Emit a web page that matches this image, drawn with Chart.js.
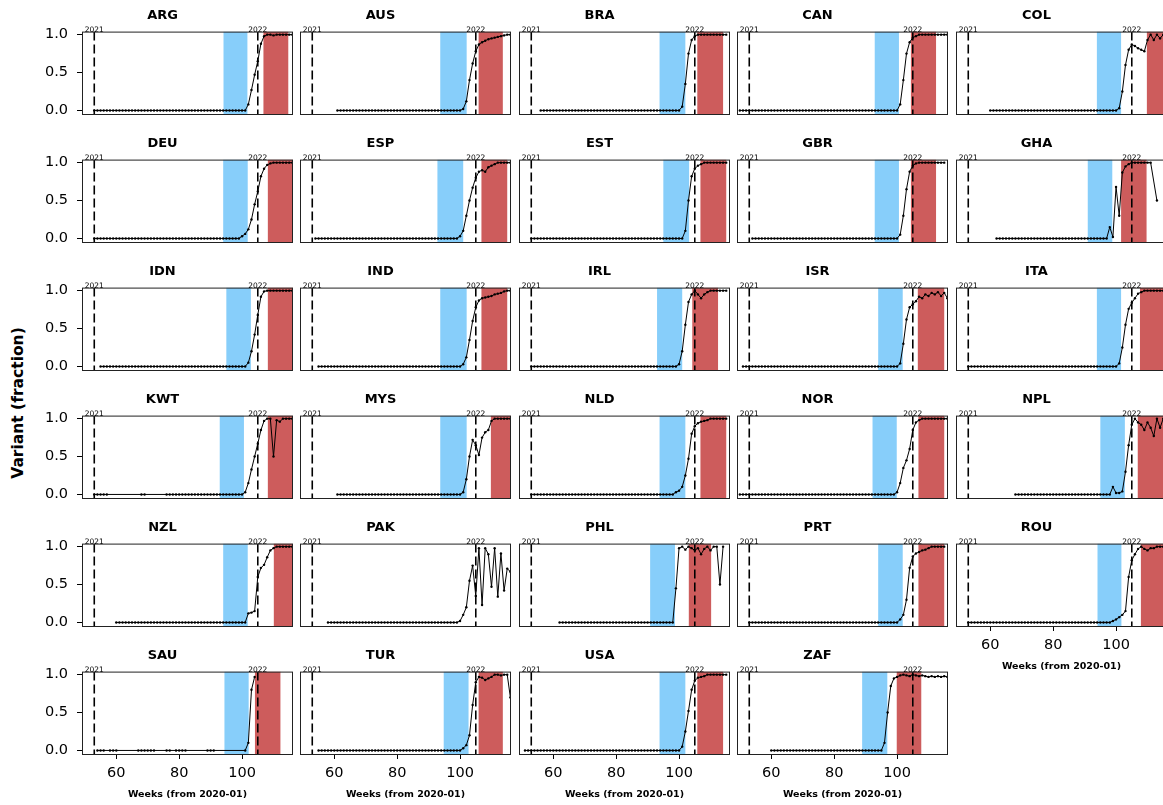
<!DOCTYPE html>
<html>
<head>
<meta charset="utf-8">
<script src="https://cdn.jsdelivr.net/npm/chart.js@4.4.0/dist/chart.umd.min.js"></script>
<style>
  html, body { margin: 0; padding: 0; background: #fff; }
  #fig { position: relative; width: 1163px; height: 805px; overflow: hidden; background: #fff; }
  #fig canvas { position: absolute; }
  #ylab {
    position: absolute; left: 18px; top: 403px;
    transform: translate(-50%, -50%) rotate(-90deg);
    font: bold 15.5px "DejaVu Sans", sans-serif; white-space: nowrap; color: #000;
  }
</style>
</head>
<body>
<div id="fig"><div id="ylab">Variant (fraction)</div></div>
<script>
// variant fraction per week, one array per country (null = no sample that week)
const countries = ["ARG", "AUS", "BRA", "CAN", "COL", "DEU", "ESP", "EST", "GBR", "GHA",
  "IDN", "IND", "IRL", "ISR", "ITA", "KWT", "MYS", "NLD", "NOR", "NPL",
  "NZL", "PAK", "PHL", "PRT", "ROU", "SAU", "TUR", "USA", "ZAF"];

const startWeek = [53, 61, 56, 50, 60, 53, 54, 53, 54, 62,
  55, 55, 53, 51, 53, 53, 61, 53, 50, 68,
  60, 58, 62, 53, 53, 54, 55, 51, 60];

const ARG = [0,0,0,0,0,0,0,0,0,0, 0,0,0,0,0,0,0,0,0,0, 0,0,0,0,0,0,0,0,0,0, 0,0,0,0,0,0,0,0,0,0, 0,0,0,0,0,0,0,0,0,
  0.08,0.27,0.47,0.65,0.88,0.98,1,1,0.99,1,1,1,1,1,1];
const AUS = [0,0,0,0,0,0,0,0,0,0, 0,0,0,0,0,0,0,0,0,0, 0,0,0,0,0,0,0,0,0,0, 0,0,0,0,0,0,0,0,0,0,
  0.02,0.12,0.4,0.62,0.78,0.87,0.9,0.92,0.94,0.95,0.96,0.97,0.98,0.99,1,1];
const BRA = [0,0,0,0,0,0,0,0,0,0, 0,0,0,0,0,0,0,0,0,0, 0,0,0,0,0,0,0,0,0,0, 0,0,0,0,0,0,0,0,0,0, 0,0,0,0,0,
  0.05,0.35,0.75,0.93,0.98,1,1,1,1,1,1,1,1,1,1];
const CAN = [0,0,0,0,0,0,0,0,0,0, 0,0,0,0,0,0,0,0,0,0, 0,0,0,0,0,0,0,0,0,0, 0,0,0,0,0,0,0,0,0,0, 0,0,0,0,0,0,0,0,0,0, 0,
  0.08,0.4,0.75,0.9,0.96,0.98,1,1,1,1,1,1,1,1,1,1];
const COL = [0,0,0,0,0,0,0,0,0,0, 0,0,0,0,0,0,0,0,0,0, 0,0,0,0,0,0,0,0,0,0, 0,0,0,0,0,0,0,0,0,0, 0,
  0.03,0.25,0.6,0.8,0.87,0.85,0.82,0.8,0.78,0.93,1,0.93,1,0.95,1,0.98];
const DEU = [0,0,0,0,0,0,0,0,0,0, 0,0,0,0,0,0,0,0,0,0, 0,0,0,0,0,0,0,0,0,0, 0,0,0,0,0,0,0,0,0,0, 0,0,0,0,0,0,0,
  0.03,0.06,0.12,0.25,0.45,0.62,0.82,0.92,0.97,0.99,1,1,1,1,1,1,1];
const ESP = [0,0,0,0,0,0,0,0,0,0, 0,0,0,0,0,0,0,0,0,0, 0,0,0,0,0,0,0,0,0,0, 0,0,0,0,0,0,0,0,0,0, 0,0,0,0,0,0,
  0.03,0.1,0.3,0.5,0.67,0.8,0.88,0.9,0.88,0.94,0.96,0.98,1,1,1,1,1];
const EST = [0,0,0,0,0,0,0,0,0,0, 0,0,0,0,0,0,0,0,0,0, 0,0,0,0,0,0,0,0,0,0, 0,0,0,0,0,0,0,0,0,0, 0,0,0,0,0,0,0,0,0,
  0.1,0.5,0.82,0.92,0.96,0.98,1,1,1,1,1,1,1,1];
const GBR = [0,0,0,0,0,0,0,0,0,0, 0,0,0,0,0,0,0,0,0,0, 0,0,0,0,0,0,0,0,0,0, 0,0,0,0,0,0,0,0,0,0, 0,0,0,0,0,0,0,
  0.05,0.3,0.65,0.88,0.96,0.99,1,1,1,1,1,1,1,1,1];
const GHA = [0,0,0,0,0,0,0,0,0,0, 0,0,0,0,0,0,0,0,0,0, 0,0,0,0,0,0,0,0,0,0, 0,0,0,0,0,0,
  0.15,0.02,0.68,0.3,0.87,0.95,0.98,1,1,1,1,1,1,1,null,0.5];
const IDN = [0,0,0,0,0,0,0,0,0,0, 0,0,0,0,0,0,0,0,0,0, 0,0,0,0,0,0,0,0,0,0, 0,0,0,0,0,0,0,0,0,0, 0,0,0,0,0,0,0,
  0.05,0.2,0.42,0.68,0.92,0.99,1,1,1,1,1,1,1,1,1];
const IND = [0,0,0,0,0,0,0,0,0,0, 0,0,0,0,0,0,0,0,0,0, 0,0,0,0,0,0,0,0,0,0, 0,0,0,0,0,0,0,0,0,0, 0,0,0,0,0,0,
  0.03,0.12,0.35,0.6,0.78,0.87,0.9,0.91,0.92,0.93,0.95,0.96,0.97,0.99,1,1];
const IRL = [0,0,0,0,0,0,0,0,0,0, 0,0,0,0,0,0,0,0,0,0, 0,0,0,0,0,0,0,0,0,0, 0,0,0,0,0,0,0,0,0,0, 0,0,0,0,0,0,0,
  0.03,0.2,0.55,0.85,0.95,1,0.95,0.9,0.95,0.98,1,1,1,1,1,1];
const ISR = [0,0,0,0,0,0,0,0,0,0, 0,0,0,0,0,0,0,0,0,0, 0,0,0,0,0,0,0,0,0,0, 0,0,0,0,0,0,0,0,0,0, 0,0,0,0,0,0,0,0,0,0,
  0.04,0.3,0.62,0.78,0.82,0.86,0.92,0.9,0.95,0.93,0.97,0.95,0.98,0.93,0.97,0.9];
const ITA = [0,0,0,0,0,0,0,0,0,0, 0,0,0,0,0,0,0,0,0,0, 0,0,0,0,0,0,0,0,0,0, 0,0,0,0,0,0,0,0,0,0, 0,0,0,0,0,0,0,0,
  0.04,0.25,0.55,0.76,0.84,0.9,0.96,0.98,1,1,1,1,1,1,1,1];
const KWT = [0,0,0,0,0, null,null,null,null,null,null,null,null,null,null, 0,0,
  null,null,null,null,null,null, 0,0,0,0,0,0,0,0,0,0, 0,0,0,0,0,0,0,0,0,0, 0,0,0,0,0,
  0.03,0.15,0.33,0.5,0.67,0.85,0.97,1,1,0.5,0.98,0.96,1,1,1,1];
const MYS = [0,0,0,0,0,0,0,0,0,0, 0,0,0,0,0,0,0,0,0,0, 0,0,0,0,0,0,0,0,0,0, 0,0,0,0,0,0,0,0,0,0,
  0.03,0.2,0.5,0.72,0.65,0.52,0.75,0.82,0.85,0.97,1,1,1,1,1,1];
const NLD = [0,0,0,0,0,0,0,0,0,0, 0,0,0,0,0,0,0,0,0,0, 0,0,0,0,0,0,0,0,0,0, 0,0,0,0,0,0,0,0,0,0, 0,0,0,0,0,0,
  0.03,0.05,0.1,0.25,0.47,0.8,0.9,0.94,0.96,0.97,0.98,1,1,1,1,1,1];
const NOR = [0,0,0,0,0,0,0,0,0,0, 0,0,0,0,0,0,0,0,0,0, 0,0,0,0,0,0,0,0,0,0, 0,0,0,0,0,0,0,0,0,0, 0,0,0,0,0,0,0,0,0,0,
  0.03,0.15,0.35,0.45,0.6,0.85,0.95,0.98,1,1,1,1,1,1,1,1,1];
const NPL = [0,0,0,0,0,0,0,0,0,0, 0,0,0,0,0,0,0,0,0,0, 0,0,0,0,0,0,0,0,0,0, 0,
  0.1,0.02,0.02,0.04,0.3,0.65,0.92,1,0.95,0.92,0.85,0.95,0.88,0.77,1,0.88,1];
const NZL = [0,0,0,0,0,0,0,0,0,0, 0,0,0,0,0,0,0,0,0,0, 0,0,0,0,0,0,0,0,0,0, 0,0,0,0,0,0,0,0,0,0, 0,0,
  0.12,0.13,0.15,0.6,0.72,0.76,0.86,0.95,0.98,1,1,1,1,1,1];
const PAK = [0,0,0,0,0,0,0,0,0,0, 0,0,0,0,0,0,0,0,0,0, 0,0,0,0,0,0,0,0,0,0, 0,0,0,0,0,0,0,0,0,0, 0,0,
  0.02,0.1,0.2,0.55,0.75,0.35,0.98,0.23,0.98,0.9,0.47,0.98,0.34,0.91,0.42,0.71,0.67];
const PHL = [0,0,0,0,0,0,0,0,0,0, 0,0,0,0,0,0,0,0,0,0, 0,0,0,0,0,0,0,0,0,0, 0,0,0,0,0,0,0,
  0.45,0.98,1,0.96,1,0.98,0.95,0.98,0.9,0.97,1,0.95,1,1,0.5,1];
const PRT = [0,0,0,0,0,0,0,0,0,0, 0,0,0,0,0,0,0,0,0,0, 0,0,0,0,0,0,0,0,0,0, 0,0,0,0,0,0,0,0,0,0, 0,0,0,0,0,0,0,0,
  0.04,0.1,0.3,0.72,0.87,0.91,0.93,0.95,0.96,0.98,1,1,1,1,1];
const ROU = [0,0,0,0,0,0,0,0,0,0, 0,0,0,0,0,0,0,0,0,0, 0,0,0,0,0,0,0,0,0,0, 0,0,0,0,0,0,0,0,0,0, 0,0,0,0,0,0,
  0.02,0.04,0.07,0.1,0.15,0.6,0.82,0.9,0.97,1,0.97,0.95,0.98,0.98,1,1,1,1];
const SAU = [0,0,0, null, 0,0,0, null,null,null,null,null,null, 0,0,0,0,0,0, null,null,null, 0,0, null,
  0,0,0,0, null,null,null,null,null,null, 0,0,0, null,null,null,null,null,null,null,null,null,
  0, 0.1,0.8,0.97];
const TUR = [0,0,0,0,0,0,0,0,0,0, 0,0,0,0,0,0,0,0,0,0, 0,0,0,0,0,0,0,0,0,0, 0,0,0,0,0,0,0,0,0,0, 0,0,0,0,0,0,
  0.03,0.07,0.2,0.6,0.9,0.97,0.96,0.93,0.95,0.97,1,1,0.99,1,1,0.7];
const USA = [0,0,0,0,0,0,0,0,0,0, 0,0,0,0,0,0,0,0,0,0, 0,0,0,0,0,0,0,0,0,0, 0,0,0,0,0,0,0,0,0,0, 0,0,0,0,0,0,0,0,0,0,
  0.05,0.25,0.52,0.8,0.92,0.96,0.97,0.98,1,1,1,1,1,1,1];
const ZAF = [0,0,0,0,0,0,0,0,0,0, 0,0,0,0,0,0,0,0,0,0, 0,0,0,0,0,0,0,0,0,0, 0,0,0,0,0,0,
  0.1,0.5,0.85,0.95,0.97,0.99,1,0.99,0.98,1,0.99,0.98,0.99,0.98,0.97,0.98,0.97,0.98,0.97,0.98,0.97];

const series = [ARG, AUS, BRA, CAN, COL, DEU, ESP, EST, GBR, GHA,
  IDN, IND, IRL, ISR, ITA, KWT, MYS, NLD, NOR, NPL,
  NZL, PAK, PHL, PRT, ROU, SAU, TUR, USA, ZAF];

// shaded week ranges (blue = earlier period, red = later period)
const blueStart = [94.1, 93.7, 93.8, 92.9, 93.9, 94.0, 92.8, 95.0, 92.9, 91.0,
  95.0, 93.7, 93.0, 94.0, 93.9, 92.9, 93.7, 93.8, 92.2, 95.0,
  94.0, null, 90.8, 94.0, 94.1, 94.4, 94.8, 93.8, 88.9];
const blueEnd = [101.7, 102.1, 102.0, 100.6, 101.6, 101.8, 101.0, 103.2, 100.6, 98.8,
  102.8, 102.1, 101.0, 101.8, 101.6, 100.6, 102.1, 102.0, 99.9, 102.8,
  101.8, null, 98.7, 101.8, 101.7, 102.1, 102.7, 102.0, 96.9];
const redStart = [106.8, 105.9, 105.8, 104.4, 109.8, 108.2, 106.8, 106.8, 104.4, 101.6,
  108.2, 106.8, 104.2, 106.6, 107.6, 108.2, 109.8, 106.8, 106.8, 106.9,
  110.1, null, 103.1, 106.8, 107.9, 104.1, 105.9, 105.8, 99.9];
const redEnd = [114.7, 113.6, 114.0, 112.4, 125, 116.2, 115.0, 115.0, 112.4, 109.7,
  116.2, 115.0, 112.4, 115.0, 125, 116.2, 116.2, 115.0, 115.0, 125,
  116.2, null, 110.2, 115.0, 125, 112.2, 113.6, 114.0, 107.7];

const yearWeeks = [53, 105];
const yearLabels = ["2021", "2022"];
const xTicks = [60, 80, 100];
const yTicks = [0, 0.5, 1];

const X_MIN = 49.1, X_MAX = 116.2;
const Y_MIN = -0.06, Y_MAX = 1.04;
const BLUE = "#87cefa", RED = "#cd5c5c";
const FONT = "DejaVu Sans";

// grid geometry of the plot areas
const COL_LEFT = 82, COL_STEP = 218.4, ROW_TOP = 31.7, ROW_STEP = 128.06;
const CANVAS_W = 267, CANVAS_H = 154;

Chart.defaults.font.family = FONT;

const panelDecor = {
  id: "panelDecor",
  beforeDatasetsDraw(chart, args, opts) {
    const { ctx, chartArea: a, scales: { x } } = chart;
    const i = opts.index;
    ctx.save();
    ctx.beginPath();
    ctx.rect(a.left, a.top, a.width, a.height);
    ctx.clip();
    const band = (s, e, color) => {
      if (s == null) return;
      const x0 = x.getPixelForValue(s), x1 = x.getPixelForValue(e);
      ctx.fillStyle = color;
      ctx.fillRect(x0, a.top, x1 - x0, a.height);
    };
    band(blueStart[i], blueEnd[i], BLUE);
    band(redStart[i], redEnd[i], RED);
    ctx.strokeStyle = "#000";
    ctx.lineWidth = 1.6;
    ctx.setLineDash([9, 4]);
    yearWeeks.forEach(w => {
      const px = x.getPixelForValue(w);
      ctx.beginPath();
      ctx.moveTo(px, a.top);
      ctx.lineTo(px, a.bottom);
      ctx.stroke();
    });
    ctx.restore();
  },
  afterDraw(chart) {
    const { ctx, chartArea: a, scales: { x } } = chart;
    ctx.save();
    ctx.strokeStyle = "#222";
    ctx.lineWidth = 1;
    ctx.strokeRect(a.left + 0.5, a.top + 0.5, a.width - 1, a.height - 1);
    ctx.fillStyle = "#000";
    ctx.font = "7.5px " + FONT;
    ctx.textAlign = "center";
    ctx.textBaseline = "alphabetic";
    yearWeeks.forEach((w, k) => ctx.fillText(yearLabels[k], x.getPixelForValue(w), a.top));
    ctx.restore();
  }
};

const fig = document.getElementById("fig");

countries.forEach((name, i) => {
  const col = i % 5, row = Math.floor(i / 5);
  const showX = row === 5 || i === 24;
  const showY = col === 0;
  const canvas = document.createElement("canvas");
  canvas.width = CANVAS_W;
  canvas.height = CANVAS_H;
  fig.appendChild(canvas);

  const points = series[i].map((v, k) => ({ x: startWeek[i] + k, y: v }));

  const chart = new Chart(canvas, {
    type: "line",
    data: {
      datasets: [{
        data: points,
        borderColor: "#000",
        backgroundColor: "#000",
        borderWidth: 1,
        pointRadius: 1.2,
        pointBorderWidth: 0,
        pointHoverRadius: 0,
        spanGaps: true,
        tension: 0
      }]
    },
    options: {
      responsive: false,
      animation: false,
      events: [],
      layout: { padding: { left: 0, right: 6, top: 0, bottom: 0 } },
      plugins: {
        legend: { display: false },
        tooltip: { enabled: false },
        title: {
          display: true, text: name, color: "#000",
          font: { family: FONT, size: 13, weight: "bold" },
          padding: { top: 2, bottom: 8 }
        },
        panelDecor: { index: i }
      },
      scales: {
        x: {
          type: "linear", min: X_MIN, max: X_MAX,
          afterBuildTicks: s => { s.ticks = xTicks.map(v => ({ value: v })); },
          afterFit: s => { s.height = 45; },
          ticks: { display: showX, padding: 6, maxRotation: 0, color: "#000",
            font: { family: FONT, size: 14.5 }, callback: v => String(v) },
          grid: showX ? { drawOnChartArea: false, tickLength: 4, color: "#000" } : { display: false },
          border: { display: false },
          title: { display: showX, text: "Weeks (from 2020-01)", color: "#000",
            font: { family: FONT, size: 9.5, weight: "bold" }, padding: { top: 0, bottom: 0 } }
        },
        y: {
          min: Y_MIN, max: Y_MAX,
          afterBuildTicks: s => { s.ticks = yTicks.map(v => ({ value: v })); },
          afterFit: s => { s.width = 50; },
          ticks: { display: showY, padding: 9, color: "#000",
            font: { family: FONT, size: 14.5 }, callback: v => v.toFixed(1) },
          grid: showY ? { drawOnChartArea: false, tickLength: 5, color: "#000" } : { display: false },
          border: { display: false }
        }
      }
    },
    plugins: [panelDecor]
  });

  const targetLeft = COL_LEFT + COL_STEP * col;
  const targetTop = ROW_TOP + ROW_STEP * row;
  canvas.style.left = Math.round(targetLeft - chart.chartArea.left) + "px";
  canvas.style.top = Math.round(targetTop - chart.chartArea.top) + "px";
});
</script>
</body>
</html>
